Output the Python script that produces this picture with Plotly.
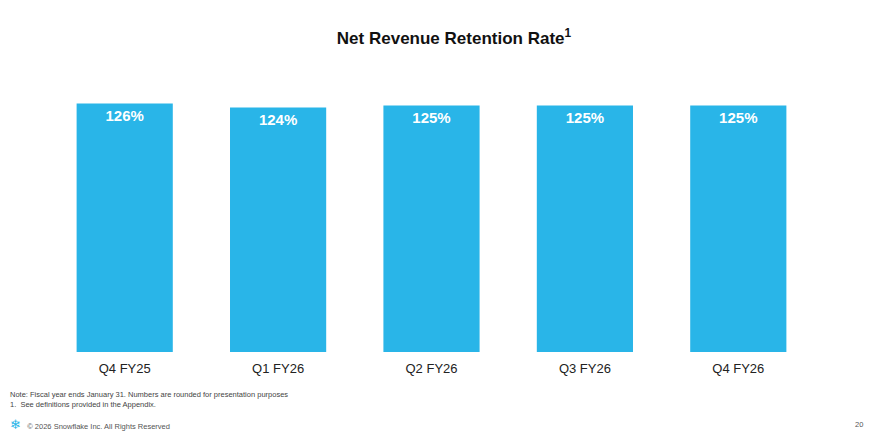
import plotly.graph_objects as go

quarters = ["Q4 FY25", "Q1 FY26", "Q2 FY26", "Q3 FY26", "Q4 FY26"]
nrr = [126, 124, 125, 125, 125]
labels = ["126%", "124%", "125%", "125%", "125%"]

fig = go.Figure(data=[go.Bar(x=quarters, y=nrr, text=labels, textposition="inside",
                             insidetextanchor="end", marker=dict(color="#29B5E8", line=dict(width=0)),
                             textfont=dict(family="Liberation Sans", size=15, color="white"),
                             texttemplate="<b>%{text}</b>", cliponaxis=False)])

fig.update_layout(
    width=892, height=443, margin=dict(l=40, r=85, t=68, b=99, autoexpand=False),
    plot_bgcolor="white", paper_bgcolor="white", bargap=0.373, showlegend=False,
    font=dict(family="Liberation Sans", color="#222222"),
    title=dict(text="<b>Net Revenue Retention Rate<sup>1</sup></b>", x=0.5, xanchor="center",
               y=0.945, font=dict(size=17, color="#111111")))
fig.update_xaxes(showline=False, ticks="", ticklabelstandoff=7, tickfont=dict(size=13, color="#222222"))
fig.update_yaxes(range=[0, 140], visible=False)

# footnotes
fig.add_annotation(text="Note: Fiscal year ends January 31. Numbers are rounded for presentation purposes<br>1.  See definitions provided in the Appendix.",
                   xref="paper", yref="paper", x=-0.052, y=-0.13, xanchor="left", yanchor="top",
                   showarrow=False, align="left", font=dict(size=7.5, color="#444444"))
fig.add_annotation(text="<span style='color:#29B5E8;font-size:13px'>❄</span>   © 2026 Snowflake Inc. All Rights Reserved",
                   xref="paper", yref="paper", x=-0.052, y=-0.264, xanchor="left", yanchor="middle",
                   showarrow=False, align="left", font=dict(size=7.5, color="#555555"))
fig.add_annotation(text="20", xref="paper", yref="paper", x=1.065, y=-0.264, xanchor="right", yanchor="middle",
                   showarrow=False, font=dict(size=7.5, color="#555555"))

fig.write_html("out.html")
